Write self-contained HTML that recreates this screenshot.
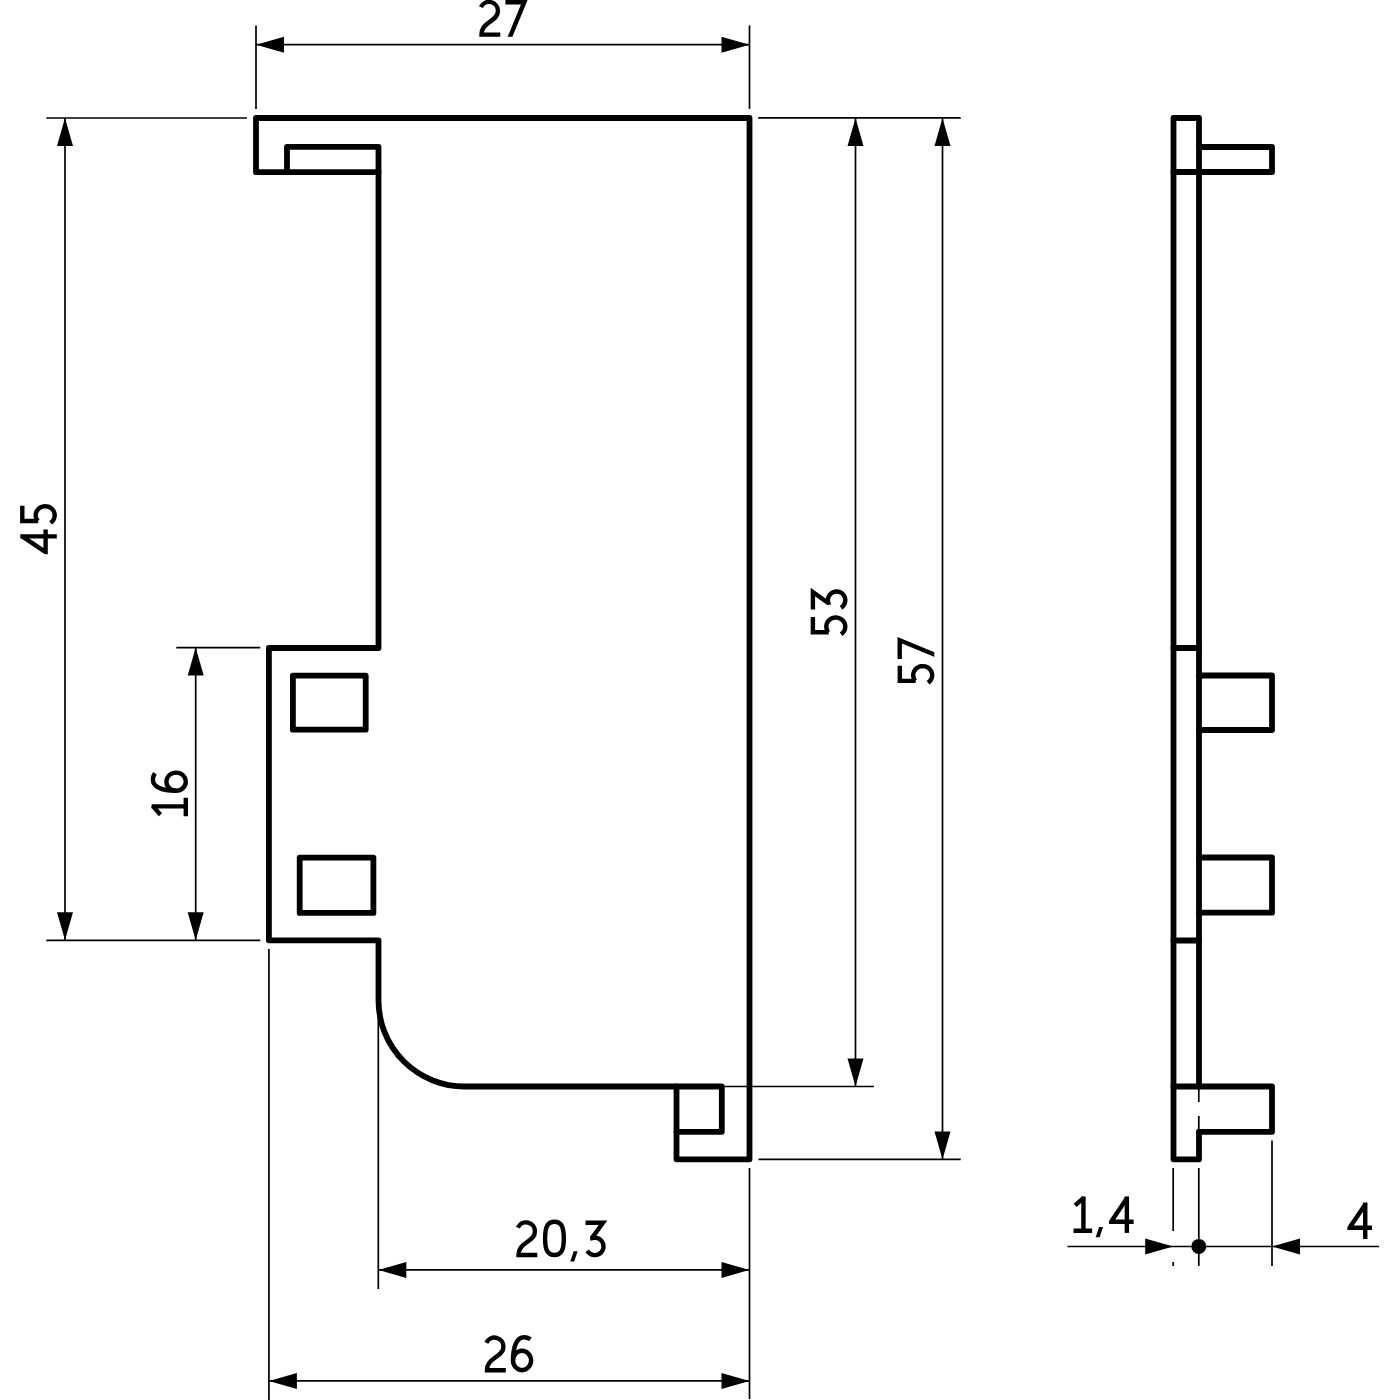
<!DOCTYPE html>
<html><head><meta charset="utf-8"><title>drawing</title>
<style>
html,body{margin:0;padding:0;background:#fff;width:1400px;height:1400px;overflow:hidden;font-family:"Liberation Sans",sans-serif;}
svg{display:block;}
.tk{fill:none;stroke:#000;stroke-width:5.8;stroke-linejoin:round;stroke-linecap:round;}
.tn{stroke:#000;stroke-width:1.7;stroke-linecap:butt;}
.ar{fill:#000;stroke:none;}
.gl{fill:none;stroke:#000;stroke-width:4.4;stroke-linecap:butt;stroke-linejoin:miter;stroke-miterlimit:3;}
.gf{fill:#000;stroke:none;}
</style></head>
<body>
<svg width="1400" height="1400" viewBox="0 0 1400 1400">
<defs><clipPath id="gclip" clipPathUnits="userSpaceOnUse"><rect x="-10" y="-45" width="50" height="45"/></clipPath><clipPath id="gclip4" clipPathUnits="userSpaceOnUse"><rect x="0" y="-45" width="40" height="45"/></clipPath></defs>
<rect width="1400" height="1400" fill="#fff"/>
<path class="tk" d="M256,118 L749.5,118 L749.5,1159.3 L676.5,1159.3 L676.5,1086.5 L464.5,1086.5 A86,86 0 0 1 378.5,1000.5 L378.5,940.3 L268.9,940.3 L268.9,648 L378.5,648 L378.5,172.2 L256,172.2 Z"/>
<path class="tk" d="M287,172.2 L287,146.9 L378.5,146.9 L378.5,172.2"/>
<path class="tk" d="M676.5,1131.8 L721.8,1131.8 L721.8,1086.5 L676.5,1086.5"/>
<rect class="tk" x="292.9" y="675.7" width="72.8" height="54"/>
<rect class="tk" x="299.7" y="857.7" width="73.7" height="55.2"/>
<line class="tn" x1="256" y1="25.4" x2="256" y2="108.9"/>
<line class="tn" x1="749.5" y1="25.4" x2="749.5" y2="108.9"/>
<line class="tn" x1="46.3" y1="118" x2="247" y2="118"/>
<line class="tn" x1="758.2" y1="117.9" x2="960.7" y2="117.9"/>
<line class="tn" x1="46.3" y1="940.3" x2="260.3" y2="940.3"/>
<line class="tn" x1="176.3" y1="647.6" x2="260.3" y2="647.6"/>
<line class="tn" x1="724.5" y1="1086.5" x2="873.9" y2="1086.5"/>
<line class="tn" x1="758.5" y1="1159.4" x2="960.7" y2="1159.4"/>
<line class="tn" x1="378.3" y1="995" x2="378.3" y2="1289.1"/>
<line class="tn" x1="268.9" y1="948.9" x2="268.9" y2="1400"/>
<line class="tn" x1="749.5" y1="1168" x2="749.5" y2="1399"/>
<line class="tn" x1="256" y1="44.7" x2="749.5" y2="44.7"/>
<polygon class="ar" points="256.00,44.70 284.00,36.70 284.00,52.70"/>
<polygon class="ar" points="749.50,44.70 721.50,36.70 721.50,52.70"/>
<line class="tn" x1="65" y1="118" x2="65" y2="940.3"/>
<polygon class="ar" points="65.00,118.00 57.00,146.00 73.00,146.00"/>
<polygon class="ar" points="65.00,940.30 57.00,912.30 73.00,912.30"/>
<line class="tn" x1="195.7" y1="647.6" x2="195.7" y2="940.3"/>
<polygon class="ar" points="195.70,647.60 187.70,675.60 203.70,675.60"/>
<polygon class="ar" points="195.70,940.30 187.70,912.30 203.70,912.30"/>
<line class="tn" x1="855.5" y1="118" x2="855.5" y2="1086.5"/>
<polygon class="ar" points="855.50,117.90 847.50,145.90 863.50,145.90"/>
<polygon class="ar" points="855.50,1086.50 847.50,1058.50 863.50,1058.50"/>
<line class="tn" x1="942.5" y1="118" x2="942.5" y2="1159.4"/>
<polygon class="ar" points="942.50,117.90 934.50,145.90 950.50,145.90"/>
<polygon class="ar" points="942.50,1159.40 934.50,1131.40 950.50,1131.40"/>
<line class="tn" x1="378.3" y1="1269.9" x2="749.5" y2="1269.9"/>
<polygon class="ar" points="378.30,1269.90 406.30,1261.90 406.30,1277.90"/>
<polygon class="ar" points="749.50,1269.90 721.50,1261.90 721.50,1277.90"/>
<line class="tn" x1="268.9" y1="1380.9" x2="749.5" y2="1380.9"/>
<polygon class="ar" points="268.90,1380.90 296.90,1372.90 296.90,1388.90"/>
<polygon class="ar" points="749.50,1380.90 721.50,1372.90 721.50,1388.90"/>
<g transform="translate(479.30,36.80)"><path class="gl" d="M1.6,-29.6 A8.9,8.9 0 0 1 18.6,-25.5 C18.6,-20.5 14.5,-17.8 10.8,-15.2 C5.5,-11.4 2.2,-8.5 2.2,-2.2 L21,-2.2"/></g><g transform="translate(505.40,36.80)"><path class="gl" stroke-linejoin="bevel" clip-path="url(#gclip)" d="M0,-34.6 L18.9,-34.6 L4.6,0.0 L3.5,2.7"/></g>
<g transform="translate(516.30,1257.20)"><path class="gl" d="M1.6,-29.6 A8.9,8.9 0 0 1 18.6,-25.5 C18.6,-20.5 14.5,-17.8 10.8,-15.2 C5.5,-11.4 2.2,-8.5 2.2,-2.2 L21,-2.2"/></g><g transform="translate(542.90,1257.20)"><path class="gl" d="M11.55,-35.400000000000006 C18.28,-35.400000000000006 20.9,-30.75 20.9,-18.8 C20.9,-6.85 18.28,-2.1999999999999993 11.55,-2.1999999999999993 C4.82,-2.1999999999999993 2.200000000000001,-6.85 2.200000000000001,-18.8 C2.200000000000001,-30.75 4.82,-35.400000000000006 11.55,-35.400000000000006 Z"/></g><g transform="translate(570.30,1257.20)"><path class="gf" d="M3.4,-6 L7.3,-6 L3.9,4.3 L0,4.3 Z"/></g><g transform="translate(584.40,1257.20)"><path class="gl" stroke-linejoin="bevel" d="M1.1,-34.5 L18.6,-34.5 L7.8,-19.6 L7.86,-19.12 L9.22,-19.42 L10.61,-19.50 L11.99,-19.35 L13.33,-18.99 L14.60,-18.42 L15.76,-17.65 L16.79,-16.71 L17.65,-15.61 L18.32,-14.39 L18.80,-13.08 L19.05,-11.71 L19.09,-10.32 L18.90,-8.94 L18.49,-7.61 L17.88,-6.36 L17.08,-5.22 L16.10,-4.23 L14.98,-3.40 L13.74,-2.77 L12.42,-2.34 L11.04,-2.12 L9.65,-2.13 L8.28,-2.36 L6.96,-2.81 L5.73,-3.46 L4.62,-4.30 L3.66,-5.30 L2.87,-6.45"/></g>
<g transform="translate(484.80,1372.40)"><path class="gl" d="M1.6,-29.6 A8.9,8.9 0 0 1 18.6,-25.5 C18.6,-20.5 14.5,-17.8 10.8,-15.2 C5.5,-11.4 2.2,-8.5 2.2,-2.2 L21,-2.2"/></g><g transform="translate(510.80,1372.40)"><ellipse class="gl" cx="11.25" cy="-11.9" rx="9.05" ry="9.7"/><path class="gl" d="M19.7,-33.1 C17.5,-34.6 15.5,-35.1 13.2,-35.1 C6.5,-35.1 2.2,-27 2.2,-12"/></g>
<g transform="translate(1073.50,1232.90)"><path class="gl" d="M9.95,-36.4 L9.95,-2.2 M0,-2.2 L18.6,-2.2"/><path class="gl" d="M10.4,-35.3 L1.6,-27.6"/></g><g transform="translate(1095.70,1232.90)"><path class="gf" d="M3.4,-6 L7.3,-6 L3.9,4.3 L0,4.3 Z"/></g><g transform="translate(1108.90,1232.90)"><path class="gl" clip-path="url(#gclip4)" d="M24.7,-11.2 L2.2,-11.2 L17.95,-34.6"/><path class="gl" d="M17.95,-36.5 L17.95,0"/></g>
<g transform="translate(1347.30,1239.00)"><path class="gl" clip-path="url(#gclip4)" d="M24.7,-11.2 L2.2,-11.2 L17.95,-34.6"/><path class="gl" d="M17.95,-36.5 L17.95,0"/></g>
<g transform="translate(56.80,554.30) rotate(-90)"><path class="gl" clip-path="url(#gclip4)" d="M24.7,-11.2 L2.2,-11.2 L17.95,-34.6"/><path class="gl" d="M17.95,-36.5 L17.95,0"/></g><g transform="translate(56.80,525.00) rotate(-90)"><path class="gl" stroke-linejoin="bevel" d="M19.2,-34.5 L4.05,-34.5 L4.05,-18.7 L4.10,-19.09 L5.40,-19.97 L6.82,-20.61 L8.33,-20.99 L9.88,-21.10 L11.43,-20.93 L12.92,-20.49 L14.32,-19.79 L15.58,-18.85 L16.68,-17.70 L17.57,-16.37 L18.23,-14.90 L18.65,-13.34 L18.80,-11.73 L18.69,-10.11 L18.32,-8.54 L17.69,-7.06 L16.84,-5.70 L15.77,-4.52 L14.53,-3.55 L13.15,-2.81 L11.67,-2.33 L10.13,-2.11 L8.58,-2.17 L7.06,-2.51 L5.62,-3.11 L4.30,-3.96 L3.13,-5.03 L2.16,-6.29"/></g>
<g transform="translate(188.00,816.30) rotate(-90)"><path class="gl" d="M9.95,-36.4 L9.95,-2.2 M0,-2.2 L18.6,-2.2"/><path class="gl" d="M10.4,-35.3 L1.6,-27.6"/></g><g transform="translate(188.00,792.90) rotate(-90)"><ellipse class="gl" cx="11.25" cy="-11.9" rx="9.05" ry="9.7"/><path class="gl" d="M19.7,-33.1 C17.5,-34.6 15.5,-35.1 13.2,-35.1 C6.5,-35.1 2.2,-27 2.2,-12"/></g>
<g transform="translate(847.40,636.30) rotate(-90)"><path class="gl" stroke-linejoin="bevel" d="M19.2,-34.5 L4.05,-34.5 L4.05,-18.7 L4.10,-19.09 L5.40,-19.97 L6.82,-20.61 L8.33,-20.99 L9.88,-21.10 L11.43,-20.93 L12.92,-20.49 L14.32,-19.79 L15.58,-18.85 L16.68,-17.70 L17.57,-16.37 L18.23,-14.90 L18.65,-13.34 L18.80,-11.73 L18.69,-10.11 L18.32,-8.54 L17.69,-7.06 L16.84,-5.70 L15.77,-4.52 L14.53,-3.55 L13.15,-2.81 L11.67,-2.33 L10.13,-2.11 L8.58,-2.17 L7.06,-2.51 L5.62,-3.11 L4.30,-3.96 L3.13,-5.03 L2.16,-6.29"/></g><g transform="translate(847.40,610.60) rotate(-90)"><path class="gl" stroke-linejoin="bevel" d="M1.1,-34.5 L18.6,-34.5 L7.8,-19.6 L7.86,-19.12 L9.22,-19.42 L10.61,-19.50 L11.99,-19.35 L13.33,-18.99 L14.60,-18.42 L15.76,-17.65 L16.79,-16.71 L17.65,-15.61 L18.32,-14.39 L18.80,-13.08 L19.05,-11.71 L19.09,-10.32 L18.90,-8.94 L18.49,-7.61 L17.88,-6.36 L17.08,-5.22 L16.10,-4.23 L14.98,-3.40 L13.74,-2.77 L12.42,-2.34 L11.04,-2.12 L9.65,-2.13 L8.28,-2.36 L6.96,-2.81 L5.73,-3.46 L4.62,-4.30 L3.66,-5.30 L2.87,-6.45"/></g>
<g transform="translate(934.30,684.90) rotate(-90)"><path class="gl" stroke-linejoin="bevel" d="M19.2,-34.5 L4.05,-34.5 L4.05,-18.7 L4.10,-19.09 L5.40,-19.97 L6.82,-20.61 L8.33,-20.99 L9.88,-21.10 L11.43,-20.93 L12.92,-20.49 L14.32,-19.79 L15.58,-18.85 L16.68,-17.70 L17.57,-16.37 L18.23,-14.90 L18.65,-13.34 L18.80,-11.73 L18.69,-10.11 L18.32,-8.54 L17.69,-7.06 L16.84,-5.70 L15.77,-4.52 L14.53,-3.55 L13.15,-2.81 L11.67,-2.33 L10.13,-2.11 L8.58,-2.17 L7.06,-2.51 L5.62,-3.11 L4.30,-3.96 L3.13,-5.03 L2.16,-6.29"/></g><g transform="translate(934.30,659.10) rotate(-90)"><path class="gl" stroke-linejoin="bevel" clip-path="url(#gclip)" d="M0,-34.6 L18.9,-34.6 L4.6,0.0 L3.5,2.7"/></g>
<path class="tk" d="M1199,1086.5 L1199,118 L1173.5,118 L1173.5,1159.3 L1199,1159.3 L1199,1131.8"/>
<path class="tk" d="M1173.5,172 L1199,172"/>
<path class="tk" d="M1173.5,648 L1199,648"/>
<path class="tk" d="M1173.5,940.5 L1199,940.5"/>
<path class="tk" d="M1199,147 L1272,147 L1272,172 L1199,172"/>
<path class="tk" d="M1199,675.5 L1272,675.5 L1272,730 L1199,730"/>
<path class="tk" d="M1199,857.5 L1272,857.5 L1272,912.7 L1199,912.7"/>
<path class="tk" d="M1173.5,1086.5 L1272,1086.5 L1272,1131.8 L1199,1131.8"/>
<line class="tn" x1="1198.8" y1="1089" x2="1198.8" y2="1102"/>
<line class="tn" x1="1198.8" y1="1116" x2="1198.8" y2="1131"/>
<line class="tn" x1="1173.2" y1="1168" x2="1173.2" y2="1231"/>
<line class="tn" x1="1173.2" y1="1262" x2="1173.2" y2="1266"/>
<line class="tn" x1="1198.8" y1="1168" x2="1198.8" y2="1266"/>
<line class="tn" x1="1272" y1="1140.5" x2="1272" y2="1266"/>
<line class="tn" x1="1067.4" y1="1246.5" x2="1379" y2="1246.5"/>
<polygon class="ar" points="1173.20,1246.50 1145.20,1238.50 1145.20,1254.50"/>
<polygon class="ar" points="1272.00,1246.50 1300.00,1238.50 1300.00,1254.50"/>
<circle cx="1198.8" cy="1246.4" r="7.5" fill="#000"/>
</svg>
</body></html>
